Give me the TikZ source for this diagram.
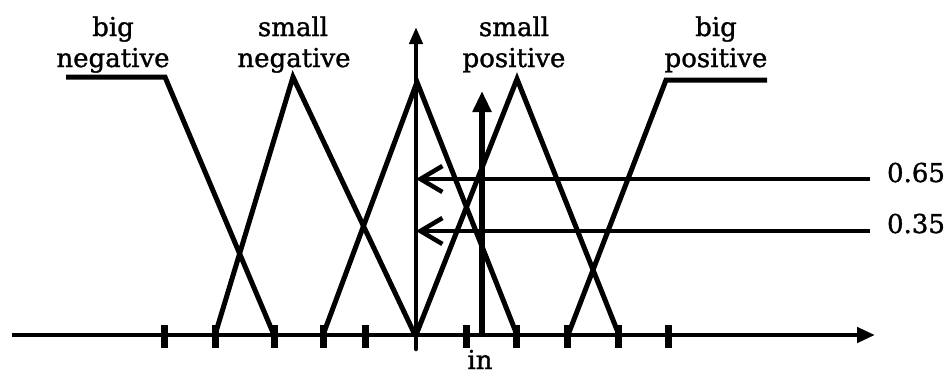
\documentclass[tikz,border=0pt]{standalone}
\usepackage{fontspec}
\setmainfont{DejaVu Serif}
\newfontfamily\lblfont{DejaVu Serif}[FakeBold=1.2]
\usetikzlibrary{arrows.meta}
\tikzset{
  mf/.style={line width=5pt, line join=miter},
  axisline/.style={line width=4.5pt},
  tickmark/.style={line width=7pt},
  lbl/.style={anchor=base, inner sep=0pt, font=\lblfont\fontsize{26}{30}\selectfont},
  level/.style={line width=4.5pt, -{Straight Barb[length=22pt,width=26pt,line width=4.5pt]}},
}
\begin{document}
\begin{tikzpicture}[x=1pt,y=-1pt]
\useasboundingbox (0,0) rectangle (949,376);
% axis
\coordinate (ax0) at (12,335);
\coordinate (ax1) at (875,335);
\draw[axisline,-{Triangle[length=18pt,width=15pt]}] (ax0) -- (ax1);
% ticks
\foreach \x [count=\i] in {164,215,274,323,365,466,516,567,618,668} {
  \coordinate (t\i a) at (\x,325);
  \coordinate (t\i b) at (\x,348);
  \draw[tickmark] (t\i a) -- (t\i b);
}
% vertical axis
\coordinate (v0) at (416,349);
\coordinate (v1) at (416,27);
\draw[axisline,line cap=round,-{Triangle[length=17pt,width=13pt]}] (v0) -- (v1);
% in arrow
\coordinate (in0) at (482,337);
\coordinate (in1) at (482,91);
\draw[line width=5.5pt,-{Triangle[length=21pt,width=18pt]}] (in0) -- (in1);
% membership functions
\coordinate (bn1) at (66,77);
\coordinate (bn2) at (165,77);
\coordinate (bn3) at (274,335);
\draw[mf] (bn1) -- (bn2) -- (bn3);
\coordinate (sn1) at (215,335);
\coordinate (sn2) at (293,77);
\coordinate (sn3) at (415,335);
\draw[mf] (sn1) -- (sn2) -- (sn3);
\coordinate (z1) at (323,335);
\coordinate (z2) at (417,82);
\coordinate (z3) at (517,335);
\draw[mf] (z1) -- (z2) -- (z3);
\coordinate (sp1) at (416,335);
\coordinate (sp2) at (517,79);
\coordinate (sp3) at (619,335);
\draw[mf] (sp1) -- (sp2) -- (sp3);
\coordinate (bp1) at (568,335);
\coordinate (bp2) at (666,80);
\coordinate (bp3) at (767,80);
\draw[mf] (bp1) -- (bp2) -- (bp3);
% levels
\coordinate (l65a) at (870,179);
\coordinate (l65b) at (416,179);
\draw[level] (l65a) -- (l65b);
\coordinate (l35a) at (870,231);
\coordinate (l35b) at (416,231);
\draw[level] (l35a) -- (l35b);
% labels
\node[lbl] (bnA) at (113,36) {big};
\node[lbl] (bnB) at (113,67) {negative};
\node[lbl] (snA) at (293,36) {small};
\node[lbl] (snB) at (294,67) {negative};
\node[lbl] (spA) at (514,36) {small};
\node[lbl] (spB) at (514,67) {positive};
\node[lbl] (bpA) at (716,36) {big};
\node[lbl] (bpB) at (716,67) {positive};
\node[lbl] (v65) at (916,182) {0.65};
\node[lbl] (v35) at (916,233) {0.35};
\node[lbl] (inl) at (480,369) {in};
\end{tikzpicture}
\end{document}
